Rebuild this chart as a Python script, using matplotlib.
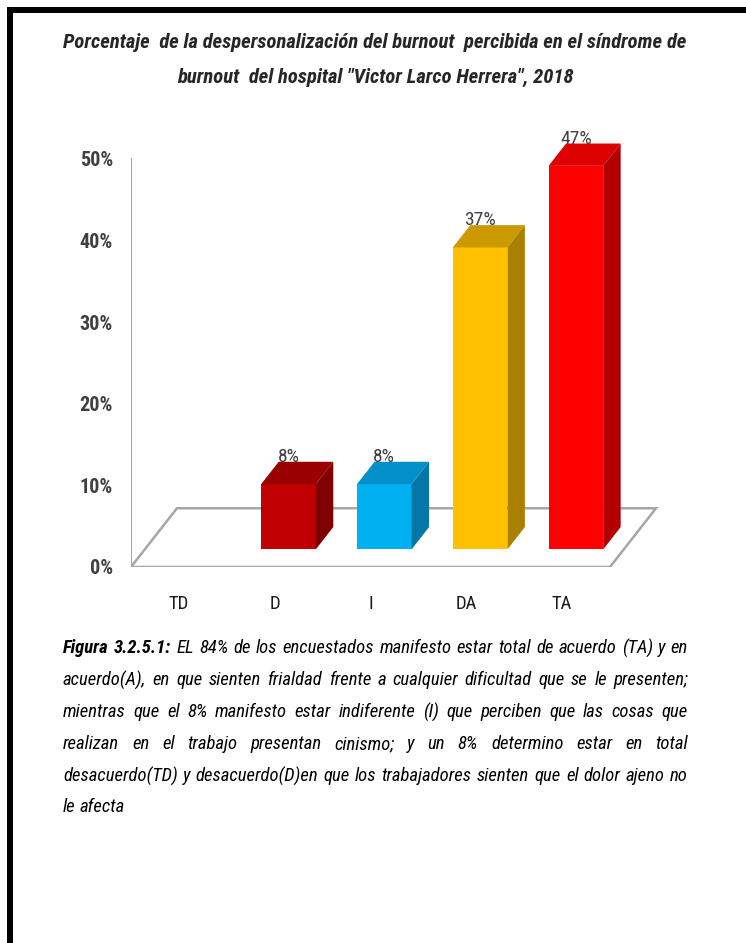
import matplotlib
matplotlib.use('Agg')
import matplotlib.pyplot as plt
from matplotlib import font_manager as fm
from matplotlib.patches import Polygon, Rectangle

# data
categories = ['TD', 'D', 'I', 'DA', 'TA']
values = [0, 8, 8, 37, 47]
value_labels = ['', '8%', '8%', '37%', '47%']
yticks = [0, 10, 20, 30, 40, 50]
ytick_labels = ['0%', '10%', '20%', '30%', '40%', '50%']

front_colors = ['#A5A5A5', '#C00000', '#00B0F0', '#FFC000', '#FF0000']
top_colors = ['#8C8C8C', '#9A0000', '#0390C8', '#CC9A00', '#DD0000']
side_colors = ['#737373', '#800000', '#0378A8', '#A98000', '#B20000']

title_lines = [
    'Porcentaje  de la despersonalización del burnout  percibida en el síndrome de',
    'burnout  del hospital "Victor Larco Herrera", 2018',
]
caption_head = 'Figura 3.2.5.1:'
caption_lines = [
    'EL 84%  de los encuestados manifesto estar  total de acuerdo (TA)  y en',
    'acuerdo(A), en que sienten frialdad  frente a cualquier dificultad  que se le presenten;',
    'mientras que el 8%  manifesto  estar   indiferente (I)  que perciben  que las cosas que',
    'realizan en el trabajo presentan cinismo; y un 8% determino estar en total',
    'desacuerdo(TD)  y desacuerdo(D)en que  los trabajadores sienten que el dolor ajeno no',
    'le afecta',
]


def pick_family(names):
    for n in names:
        try:
            fm.findfont(fm.FontProperties(family=n), fallback_to_default=False)
            return n
        except ValueError:
            pass
    return 'DejaVu Sans'


NARROW = pick_family(['Liberation Sans Narrow', 'Arial Narrow', 'Roboto Condensed',
                      'Open Sans Condensed'])
STRETCH = 'condensed'

W, H = 746, 943
fig = plt.figure(figsize=(W / 100, H / 100), dpi=100)
fig.patch.set_facecolor('white')

# 3d-ish layout (pixels)
PX_UNIT = 95.8     # px per category
PX_PCT = 8.16      # px per percent
AX_LEFT, AX_BOTTOM = 131, 567
AX_W, YTOP = 560, 56
ax = fig.add_axes([AX_LEFT / W, 1 - AX_BOTTOM / H, AX_W / W, YTOP * PX_PCT / H])
ax.set_xlim(-0.5, -0.5 + AX_W / PX_UNIT)
ax.set_ylim(0, YTOP)
for s in ax.spines.values():
    s.set_visible(False)
ax.patch.set_alpha(0)

FLOOR_DX, FLOOR_DY = 0.48, 7.2
F_FRONT, F_BACK = 0.30, 0.68
BAR_W = 0.57
GRID = '#A6A6A6'

n = len(categories)
floor = Polygon([(-0.5, 0), (n - 0.5, 0), (n - 0.5 + FLOOR_DX, FLOOR_DY),
                 (-0.5 + FLOOR_DX, FLOOR_DY)], closed=True, facecolor='white',
                edgecolor=GRID, lw=1.8, zorder=1)
ax.add_patch(floor)
ax.plot([-0.5, -0.5], [0, yticks[-1]], color=GRID, lw=1.5, zorder=1)

dx = (F_BACK - F_FRONT) * FLOOR_DX
dy = (F_BACK - F_FRONT) * FLOOR_DY
for i, v in enumerate(values):
    if v == 0:
        continue
    xc = i + F_FRONT * FLOOR_DX
    base = F_FRONT * FLOOR_DY
    xl, xr, yt = xc - BAR_W / 2, xc + BAR_W / 2, base + v
    ax.bar(xc, v, width=BAR_W, bottom=base, color=front_colors[i], zorder=3)
    ax.add_patch(Polygon([(xl, yt), (xr, yt), (xr + dx, yt + dy), (xl + dx, yt + dy)],
                         closed=True, facecolor=top_colors[i], edgecolor='none', zorder=3))
    ax.add_patch(Polygon([(xr, base), (xr, yt), (xr + dx, yt + dy), (xr + dx, base + dy)],
                         closed=True, facecolor=side_colors[i], edgecolor='none', zorder=3))
    ax.text(xc, yt + dy + 0.6, value_labels[i], ha='center', va='center',
            fontsize=14, family=NARROW, fontstretch=STRETCH, color='#404040', zorder=4)

ax.set_yticks(yticks)
ax.set_yticklabels(ytick_labels, family=NARROW, fontstretch=STRETCH, fontsize=14.5,
                   fontweight='bold', color='#404040')
ax.set_xticks(range(n))
ax.set_xticklabels(categories, family=NARROW, fontstretch=STRETCH, fontsize=13.5,
                   color='#1a1a1a')
ax.tick_params(axis='y', length=0, pad=13)
ax.tick_params(axis='x', length=0, pad=20)

renderer = fig.canvas.get_renderer()


def measure(t):
    return t.get_window_extent(renderer).width


def fit_size(text, target, size, **kw):
    t = fig.text(0, 0, text, fontsize=size, **kw)
    w = measure(t)
    t.remove()
    return size * target / w


# title
tkw = dict(family=NARROW, fontstretch=STRETCH, fontstyle='italic', fontweight='bold',
           color='#262626')
tsize = fit_size(title_lines[0], 625, 14, **tkw)
for line, yc in zip(title_lines, [43, 77]):
    fig.text(375 / W, 1 - yc / H, line, ha='center', va='center', fontsize=tsize, **tkw)

# caption, justified between X0 and X1
X0, X1 = 63, 688
ckw = dict(family=NARROW, fontstretch=STRETCH, fontstyle='italic', color='#000000')
csize = fit_size(caption_lines[1], 612, 14, **ckw)

line_y = [648, 680, 712, 744, 776, 807]
sp = fig.text(0, 0, 'x x', fontsize=csize, **ckw)
sp2 = fig.text(0, 0, 'xx', fontsize=csize, **ckw)
space_px = measure(sp) - measure(sp2)
sp.remove()
sp2.remove()

for k, (line, yc) in enumerate(zip(caption_lines, line_y)):
    words = [(w, 'normal') for w in line.split()]
    if k == 0:
        words = [(w, 'bold') for w in caption_head.split()] + words
    texts = [fig.text(0, 1 - yc / H, w, fontsize=csize, fontweight=wt, ha='left',
                      va='center', **ckw) for w, wt in words]
    widths = [measure(t) for t in texts]
    last = k == len(caption_lines) - 1
    gap = space_px if last else (X1 - X0 - sum(widths)) / (len(texts) - 1)
    x = X0
    for t, w in zip(texts, widths):
        t.set_x(x / W)
        x += w + gap

# black frame on the left and top
fig.add_artist(Rectangle((7 / W, 0), 6 / W, 1 - 7 / H, transform=fig.transFigure,
                         facecolor='black', edgecolor='none'))
fig.add_artist(Rectangle((7 / W, 1 - 13 / H), 1, 6 / H, transform=fig.transFigure,
                         facecolor='black', edgecolor='none'))

fig.savefig('out.png', dpi=100)
